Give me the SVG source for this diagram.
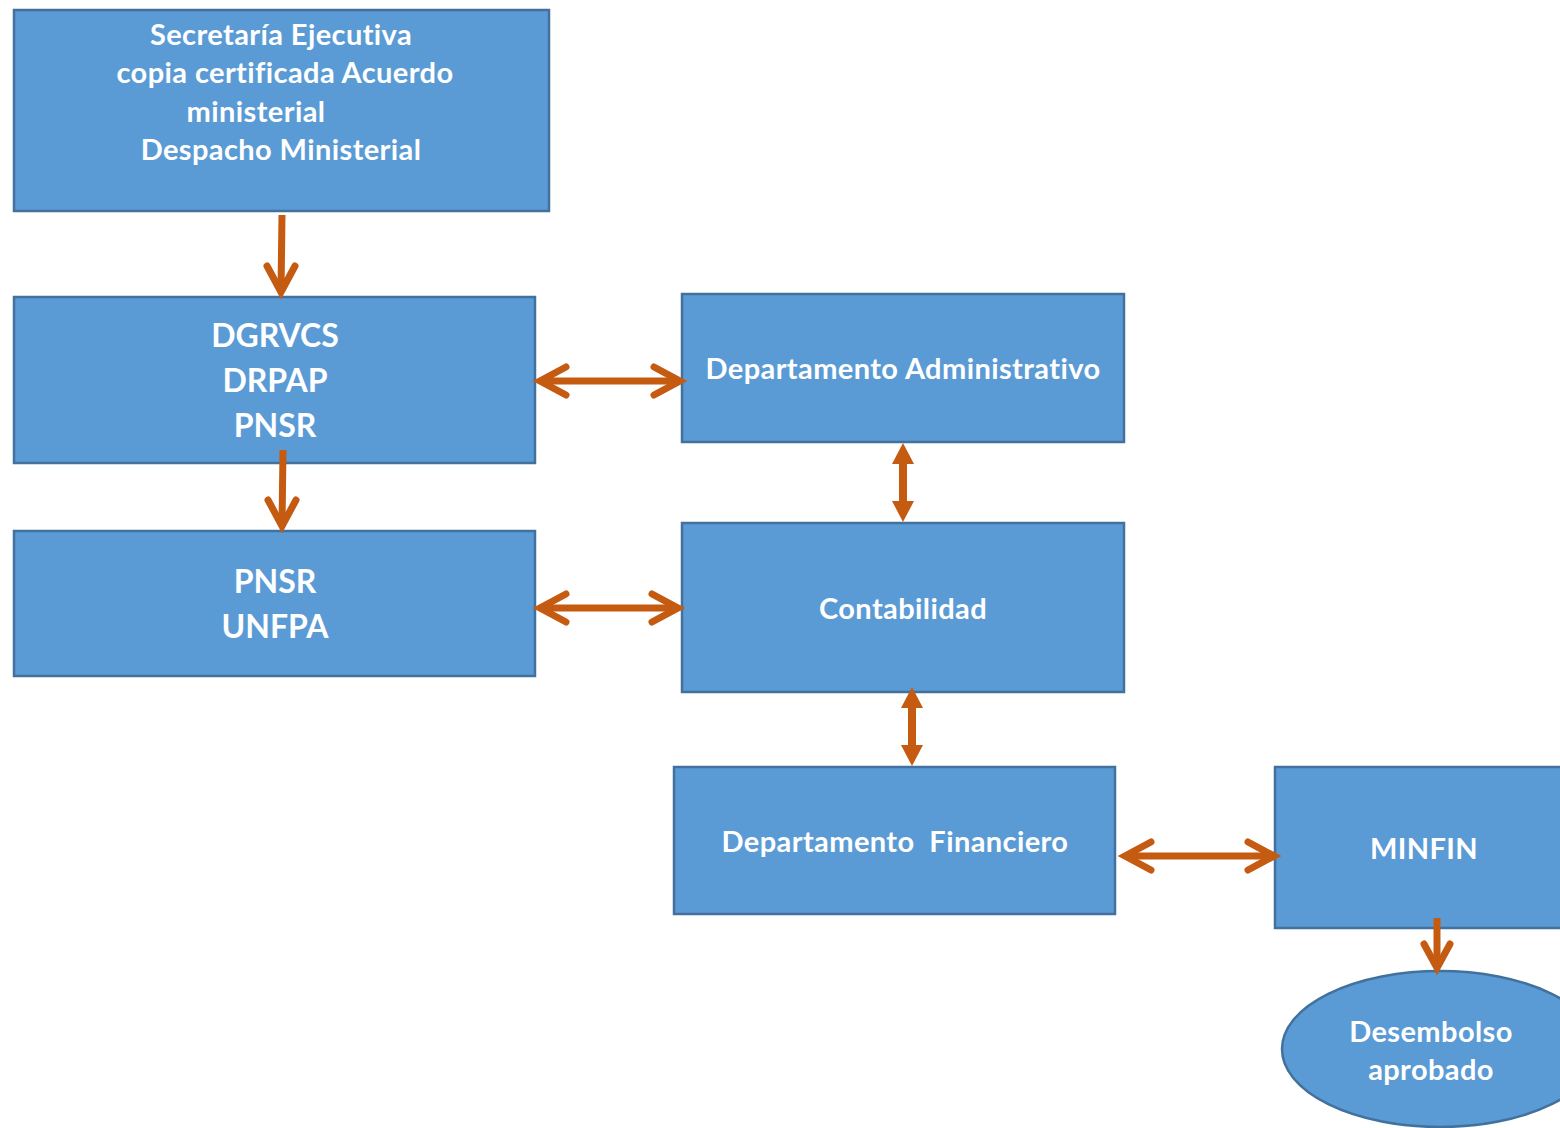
<svg xmlns="http://www.w3.org/2000/svg" width="1560" height="1128" viewBox="0 0 1560 1128">
<style>
.box{fill:#5B9BD5;stroke:#41719C;stroke-width:2.5}
.t{font-family:Lato,"Open Sans","Liberation Sans",sans-serif;font-weight:bold;fill:#fff;text-anchor:middle}
.s28{font-size:29px;letter-spacing:0.4px}
.s32{font-size:32px}
.ln{stroke:#C55A11;stroke-width:7;fill:none;stroke-linecap:butt}
.hd{stroke:#C55A11;stroke-width:7;fill:none;stroke-linecap:round;stroke-linejoin:miter}
.blk{fill:#C55A11}
</style>
<rect width="1560" height="1128" fill="#fff"/>
<g id="n1"><rect class="box" x="14" y="10" width="535" height="201"/>
<text class="t s28" x="281" y="45">Secretaría Ejecutiva</text>
<text class="t s28" x="285" y="83">copia certificada Acuerdo</text>
<text class="t s28" x="256" y="122">ministerial</text>
<text class="t s28" x="281" y="160">Despacho Ministerial</text></g>
<g id="n2"><rect class="box" x="14" y="297" width="521" height="166"/>
<text class="t s32" x="275" y="347">DGRVCS</text>
<text class="t s32" x="275" y="392">DRPAP</text>
<text class="t s32" x="275" y="437">PNSR</text></g>
<g id="n3"><rect class="box" x="14" y="531" width="521" height="145"/>
<text class="t s32" x="275" y="593">PNSR</text>
<text class="t s32" x="275" y="638">UNFPA</text></g>
<g id="n4"><rect class="box" x="682" y="294" width="442" height="148"/>
<text class="t s28" x="903" y="379">Departamento Administrativo</text></g>
<g id="n5"><rect class="box" x="682" y="523" width="442" height="169"/>
<text class="t s28" x="903" y="619">Contabilidad</text></g>
<g id="n6"><rect class="box" x="674" y="767" width="441" height="147"/>
<text class="t s28" x="895" y="852" xml:space="preserve">Departamento  Financiero</text></g>
<g id="n7"><rect class="box" x="1275" y="767" width="300" height="161"/>
<text class="t s28" x="1424" y="859">MINFIN</text></g>
<g id="n8"><ellipse class="box" cx="1440" cy="1049" rx="158" ry="78"/>
<text class="t s28" x="1431" y="1042">Desembolso</text>
<text class="t s28" x="1431" y="1080">aprobado</text></g>
<g id="connectors">
<line class="ln" x1="282" y1="215" x2="281" y2="292"/>
<polyline class="hd" points="267,266 281,292 295,266"/>
<line class="ln" x1="283" y1="450" x2="282" y2="526"/>
<polyline class="hd" points="268,500 282,526 296,500"/>
<line class="ln" x1="542" y1="381" x2="678" y2="381"/>
<polyline class="hd" points="566,367 540,381 566,395"/>
<polyline class="hd" points="654,367 680,381 654,395"/>
<line class="ln" x1="542" y1="608" x2="676" y2="608"/>
<polyline class="hd" points="566,594 540,608 566,622"/>
<polyline class="hd" points="652,594 678,608 652,622"/>
<line class="ln" x1="1127" y1="856" x2="1272" y2="856"/>
<polyline class="hd" points="1151,842 1125,856 1151,870"/>
<polyline class="hd" points="1248,842 1274,856 1248,870"/>
<line class="ln" x1="1437" y1="918" x2="1437" y2="966"/>
<polyline class="hd" points="1424,944 1437,968 1450,944"/>
<rect class="blk" x="899" y="460" width="8" height="46"/>
<polygon class="blk" points="903,443 914,464 892,464"/>
<polygon class="blk" points="903,522 914,501 892,501"/>
<rect class="blk" x="908" y="704" width="8" height="46"/>
<polygon class="blk" points="912,687 923,708 901,708"/>
<polygon class="blk" points="912,766 923,745 901,745"/>
</g>
</svg>
